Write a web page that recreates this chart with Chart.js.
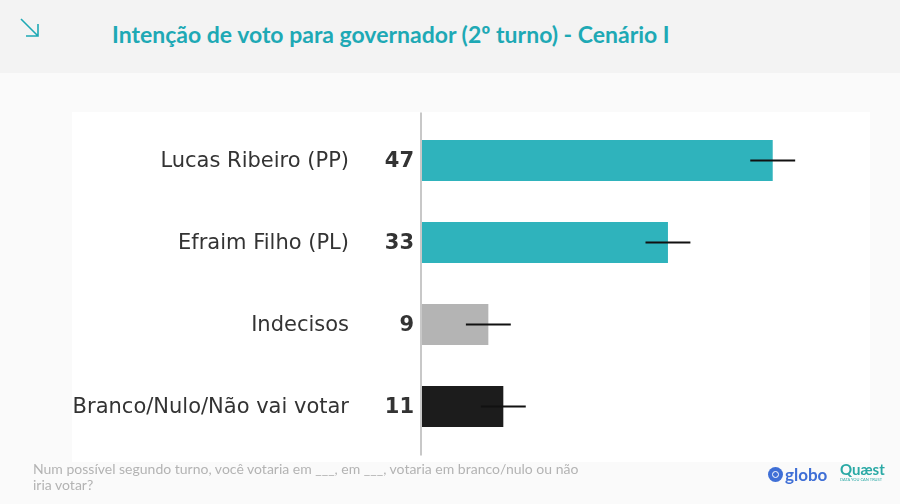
<!DOCTYPE html>
<html lang="pt">
<head>
<meta charset="utf-8">
<title>Intenção de voto para governador (2º turno) - Cenário I</title>
<script src="https://cdn.jsdelivr.net/npm/chart.js"></script>
<style>
  html, body { margin: 0; padding: 0; }
  body { width: 900px; height: 504px; background: #fafafa; position: relative; overflow: hidden; font-family: Lato, "Open Sans", sans-serif; }
  #header { position: absolute; left: 0; top: 0; width: 900px; height: 73px; background: #f3f3f3; }
  #title { position: absolute; left: 112px; top: 20px; font-size: 23px; font-weight: bold; color: #1ea9b5; white-space: nowrap; }
  #arrow { position: absolute; left: 18px; top: 16px; }
  #panel { position: absolute; left: 72px; top: 112px; width: 798px; height: 350px; background: #ffffff; }
  #wrap { position: absolute; left: 0; top: 0; width: 900px; height: 504px; }
  #note { position: absolute; left: 33px; top: 461px; font-size: 14px; line-height: 16px; color: #b3b3b3; white-space: nowrap; }
  #globo { position: absolute; left: 768px; top: 464px; font-size: 17px; font-weight: bold; color: #3f6fd6; display: flex; align-items: center; }
  #globo .dot { width: 15px; height: 15px; border-radius: 50%; background: #3f6fd6; margin-right: 2px; position: relative; }
  #globo .dot::after { content: ""; position: absolute; left: 4px; top: 4px; width: 5px; height: 5px; border-radius: 50%; border: 1px solid #fff; background: #3f6fd6; }
  #quaest { position: absolute; left: 840px; top: 462px; color: #2aa9a5; font-weight: bold; font-size: 15px; line-height: 15px; }
  #quaest small { display: block; font-size: 4px; line-height: 5px; font-weight: normal; }
</style>
</head>
<body>
<div id="header"></div>
<svg id="arrow" width="24" height="24" viewBox="0 0 24 24">
  <path d="M3 3 L20 20 M8 20 L20 20 L20 8" stroke="#1ea9b5" stroke-width="1.6" fill="none"/>
</svg>
<div id="title">Intenção de voto para governador (2º turno) - Cenário I</div>
<div id="panel"></div>
<div id="wrap"><canvas id="voteChart" width="900" height="504"></canvas></div>
<div id="note">Num possível segundo turno, você votaria em ___, em ___, votaria em branco/nulo ou não<br>iria votar?</div>
<div id="globo"><span class="dot"></span>globo</div>
<div id="quaest">Quæst<small>DATA YOU CAN TRUST</small></div>

<script>
  // dados
  const categories = ["Lucas Ribeiro (PP)", "Efraim Filho (PL)", "Indecisos", "Branco/Nulo/Não vai votar"];
  const values = [47, 33, 9, 11];
  const margins = [3, 3, 3, 3];
  const barColors = ["#2fb3bc", "#2fb3bc", "#b4b4b4", "#1c1c1c"];

  // rótulos, valores, margem de erro e eixo
  const decorPlugin = {
    id: 'decor',
    afterDatasetsDraw(chart) {
      const c = chart.ctx;
      const xs = chart.scales.x;
      const ys = chart.scales.y;
      const x0 = xs.getPixelForValue(0);

      c.save();
      // linha do eixo
      c.strokeStyle = "#c8c8c8";
      c.lineWidth = 2;
      c.beginPath();
      c.moveTo(x0, chart.chartArea.top - 7);
      c.lineTo(x0, chart.chartArea.bottom + 8);
      c.stroke();

      categories.forEach((cat, i) => {
        const y = ys.getPixelForValue(i);
        // margem de erro
        c.strokeStyle = "#111";
        c.lineWidth = 2;
        c.beginPath();
        c.moveTo(xs.getPixelForValue(values[i] - margins[i]), y);
        c.lineTo(xs.getPixelForValue(values[i] + margins[i]), y);
        c.stroke();

        c.fillStyle = "#333";
        c.textBaseline = "middle";
        c.textAlign = "right";
        c.font = "21px 'DejaVu Sans'";
        c.fillText(cat, 349, y + 1);
        c.font = "bold 21px 'DejaVu Sans'";
        c.fillText(values[i], 414, y + 1);
      });
      c.restore();
    }
  };

  const ctx = document.getElementById("voteChart").getContext("2d");
  const voteChart = new Chart(ctx, {
    type: 'bar',
    data: {
      labels: categories,
      datasets: [{
        data: values,
        backgroundColor: barColors,
        borderWidth: 0,
        categoryPercentage: 1,
        barPercentage: 0.5
      }]
    },
    options: {
      indexAxis: 'y',
      responsive: false,
      animation: false,
      layout: { padding: { left: 421, right: 30, top: 119.5, bottom: 56.5 } },
      scales: {
        x: { display: false, min: 0, max: 60 },
        y: { display: false }
      },
      plugins: {
        legend: { display: false },
        tooltip: { enabled: false }
      }
    },
    plugins: [decorPlugin]
  });
</script>
</body>
</html>
